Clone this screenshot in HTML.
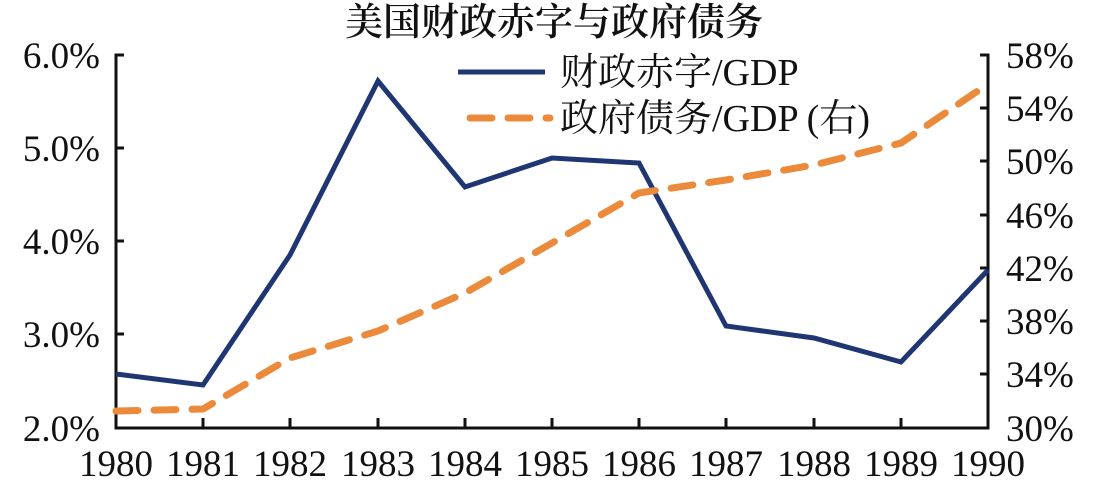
<!DOCTYPE html>
<html><head><meta charset="utf-8"><style>body{margin:0;background:#fff}svg{display:block}</style></head><body>
<svg width="1102" height="488" xmlns="http://www.w3.org/2000/svg" font-family="'Liberation Serif','Noto Serif CJK SC',serif">
<text x="554" y="35" font-size="38" text-anchor="middle" fill="#111" font-family="'Noto Serif CJK SC',serif" font-weight="600">美国财政赤字与政府债务</text>
<g stroke="#111" stroke-width="3" fill="none">
<path d="M124 55 H116 V428 H988 V55 H980"/>
<path d="M116 148h8M116 241h8M116 334h8"/>
<path d="M988 108h-8M988 161h-8M988 215h-8M988 268h-8M988 321h-8M988 374h-8"/>
<path d="M203 428v-10M290 428v-10M378 428v-10M465 428v-10M552 428v-10M639 428v-10M726 428v-10M814 428v-10M901 428v-10"/>
</g>
<g font-size="37" fill="#111" text-anchor="end">
<text x="100" y="68">6.0%</text><text x="100" y="161">5.0%</text><text x="100" y="254">4.0%</text><text x="100" y="347">3.0%</text><text x="100" y="441">2.0%</text>
</g>
<g font-size="37" fill="#111">
<text x="1006" y="68">58%</text><text x="1006" y="121">54%</text><text x="1006" y="174">50%</text><text x="1006" y="228">46%</text><text x="1006" y="281">42%</text><text x="1006" y="334">38%</text><text x="1006" y="387">34%</text><text x="1006" y="441">30%</text>
</g>
<g font-size="37" fill="#111" text-anchor="middle">
<text x="116" y="476">1980</text><text x="203" y="476">1981</text><text x="290" y="476">1982</text><text x="378" y="476">1983</text><text x="465" y="476">1984</text><text x="552" y="476">1985</text><text x="639" y="476">1986</text><text x="726" y="476">1987</text><text x="814" y="476">1988</text><text x="901" y="476">1989</text><text x="988" y="476">1990</text>
</g>
<polyline fill="none" stroke="#1f3672" stroke-width="5" points="116,374 203,385 290,255 378,81 465,187 552,158 639,163 726,326 814,338 901,362 988,270"/>
<polyline fill="none" stroke="#ec8a3b" stroke-width="7" stroke-dasharray="22,16" stroke-linecap="round" points="116,411 203,409 290,358 378,331 465,293 552,243 639,193 726,180 814,165 901,143 988,84"/>
<line x1="458" y1="72" x2="545" y2="72" stroke="#1f3672" stroke-width="5"/>
<line x1="470" y1="118" x2="550" y2="118" stroke="#ec8a3b" stroke-width="7" stroke-dasharray="22,16" stroke-linecap="round"/>
<text x="560" y="85" font-size="38" fill="#111">财政赤字/GDP</text>
<text x="560" y="131" font-size="38" fill="#111">政府债务/GDP (右)</text>
</svg>
</body></html>
